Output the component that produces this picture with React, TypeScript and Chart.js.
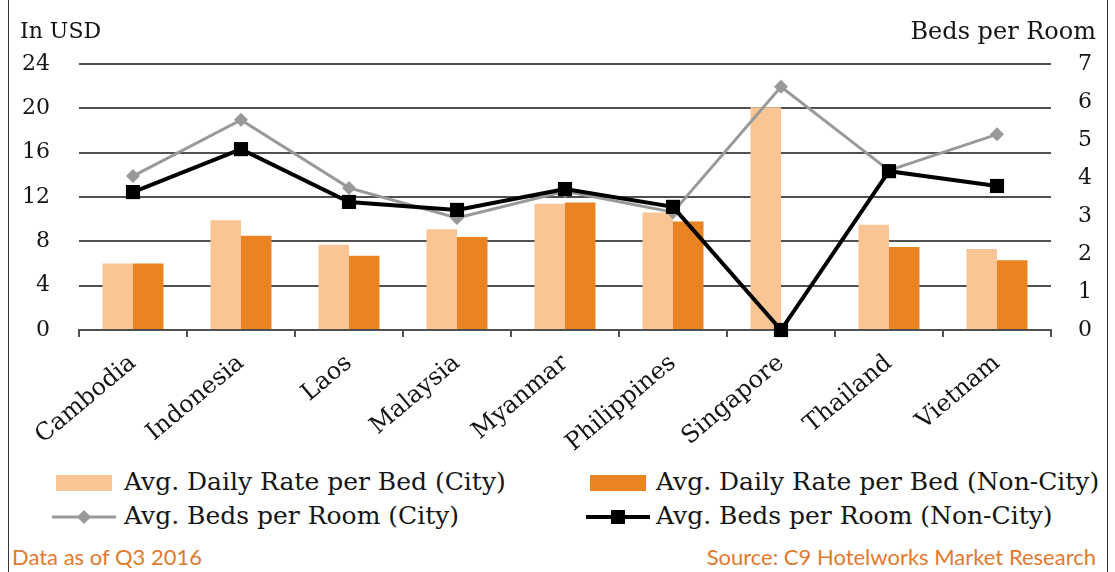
import React, { useEffect, useRef } from "react";
import { Chart, registerables } from "chart.js";

Chart.register(...registerables);

const categories = ["Cambodia", "Indonesia", "Laos", "Malaysia", "Myanmar", "Philippines", "Singapore", "Thailand", "Vietnam"];
const rateCity = [6.0, 9.9, 7.7, 9.1, 11.4, 10.6, 20.1, 9.5, 7.3];
const rateNonCity = [6.0, 8.5, 6.7, 8.4, 11.5, 9.8, 0, 7.5, 6.3];
const bedsCity = [4.05, 5.53, 3.74, 2.95, 3.65, 3.1, 6.4, 4.2, 5.15];
const bedsNonCity = [3.63, 4.76, 3.37, 3.16, 3.71, 3.24, 0, 4.18, 3.79];

const leftAxis = { min: 0, max: 24, step: 4, title: "In USD" };
const rightAxis = { min: 0, max: 7, step: 1, title: "Beds per Room" };

const seriesNames = [
  "Avg. Daily Rate per Bed (City)",
  "Avg. Daily Rate per Bed (Non-City)",
  "Avg. Beds per Room (City)",
  "Avg. Beds per Room (Non-City)",
];
const footLeft = "Data as of Q3 2016";
const footRight = "Source: C9 Hotelworks Market Research";

const COL_CITY = "#F9C594";
const COL_NONCITY = "#EA8322";
const COL_GRAY = "#999999";
const COL_BLACK = "#000000";
const COL_GRID = "#505050";
const COL_TEXT = "#151515";
const COL_FOOT = "#E07A2E";
const FONT = '"DejaVu Serif", serif';

const W = 1115;
const CH = 460;
const PLOT_LEFT = 79;
const PLOT_RIGHT = 1051;
const PLOT_TOP = 64;
const PLOT_BOTTOM = 330;

function ChartCanvas() {
  const ref = useRef<HTMLCanvasElement | null>(null);
  useEffect(() => {
    if (!ref.current) return;
    const chart = new Chart(ref.current, {
      type: "bar",
      data: {
        labels: categories,
        datasets: [
          {
            type: "line",
            label: seriesNames[3],
            data: bedsNonCity,
            yAxisID: "y1",
            borderColor: COL_BLACK,
            backgroundColor: COL_BLACK,
            borderWidth: 4,
            pointStyle: "rect",
            pointRadius: 10,
            pointBorderWidth: 0,
            tension: 0,
            clip: false as any,
            order: 0,
          },
          {
            type: "line",
            label: seriesNames[2],
            data: bedsCity,
            yAxisID: "y1",
            borderColor: COL_GRAY,
            backgroundColor: COL_GRAY,
            borderWidth: 3,
            pointStyle: "rectRot",
            pointRadius: 7,
            pointBorderWidth: 0,
            tension: 0,
            clip: false as any,
            order: 1,
          },
          {
            type: "bar",
            label: seriesNames[0],
            data: rateCity,
            yAxisID: "y",
            backgroundColor: COL_CITY,
            borderWidth: 0,
            categoryPercentage: 0.565,
            barPercentage: 1,
            order: 2,
          },
          {
            type: "bar",
            label: seriesNames[1],
            data: rateNonCity,
            yAxisID: "y",
            backgroundColor: COL_NONCITY,
            borderWidth: 0,
            categoryPercentage: 0.565,
            barPercentage: 1,
            order: 3,
          },
        ] as any,
      },
      options: {
        responsive: false,
        animation: false,
        events: [],
        layout: { padding: { top: PLOT_TOP, left: 0, right: 0, bottom: 0 } },
        plugins: { legend: { display: false }, tooltip: { enabled: false }, title: { display: false } },
        scales: {
          x: {
            offset: true,
            grid: {
              offset: true,
              drawOnChartArea: false,
              drawTicks: true,
              tickLength: 7,
              color: COL_GRID,
              lineWidth: 2,
            },
            border: { display: true, color: COL_GRID, width: 2 },
            ticks: {
              minRotation: 40,
              maxRotation: 40,
              autoSkip: false,
              padding: 12,
              color: COL_TEXT,
              font: { family: FONT, size: 24 },
            },
            afterFit: (s: any) => {
              s.height = CH - PLOT_BOTTOM;
            },
          },
          y: {
            position: "left",
            min: leftAxis.min,
            max: leftAxis.max,
            grid: { color: COL_GRID, lineWidth: 2, drawTicks: false },
            border: { display: false },
            ticks: {
              stepSize: leftAxis.step,
              padding: PLOT_LEFT - 50,
              color: COL_TEXT,
              font: { family: FONT, size: 22 },
            },
            afterFit: (s: any) => {
              s.width = PLOT_LEFT;
            },
          },
          y1: {
            position: "right",
            min: rightAxis.min,
            max: rightAxis.max,
            grid: { display: false, drawOnChartArea: false, drawTicks: false },
            border: { display: false },
            ticks: {
              stepSize: rightAxis.step,
              padding: 27,
              color: COL_TEXT,
              font: { family: FONT, size: 22 },
            },
            afterFit: (s: any) => {
              s.width = W - PLOT_RIGHT;
            },
          },
        },
      } as any,
    });
    return () => chart.destroy();
  }, []);
  return <canvas ref={ref} width={W} height={CH} style={{ display: "block", width: W, height: CH }} />;
}

function Swatch({ color }: { color: string }) {
  return (
    <svg width={60} height={20} style={{ display: "block" }}>
      <rect x={2} y={2} width={56} height={16} fill={color} />
    </svg>
  );
}

function LineMark({ color, kind }: { color: string; kind: "diamond" | "square" }) {
  return (
    <svg width={66} height={22} style={{ display: "block" }}>
      <line x1={0} y1={11} x2={64} y2={11} stroke={color} strokeWidth={kind === "square" ? 4 : 3} />
      {kind === "diamond" ? (
        <polygon points="32,4 39,11 32,18 25,11" fill={color} />
      ) : (
        <rect x={25} y={4} width={14} height={14} fill={color} />
      )}
    </svg>
  );
}

const legendText: React.CSSProperties = {
  fontFamily: FONT,
  fontSize: 25,
  color: COL_TEXT,
  whiteSpace: "nowrap",
  lineHeight: "28px",
};

const footText: React.CSSProperties = {
  position: "absolute",
  top: 543,
  fontFamily: "Lato, sans-serif",
  fontSize: 22,
  color: COL_FOOT,
  whiteSpace: "nowrap",
};

export default function App() {
  return (
    <div
      style={{
        position: "absolute",
        left: 0,
        top: 0,
        width: W,
        height: 572,
        background: "#fff",
        overflow: "hidden",
        fontFamily: FONT,
      }}
    >
      <div style={{ position: "absolute", left: 0, top: 0, width: W, height: CH }}>
        <ChartCanvas />
      </div>
      <div style={{ position: "absolute", left: 8, top: 0, width: 1, height: 572, background: "#333" }} />
      <div style={{ position: "absolute", left: 1107, top: 0, width: 1, height: 572, background: "#333" }} />
      <div style={{ position: "absolute", left: 20, top: 18, fontSize: 22, color: COL_TEXT, whiteSpace: "nowrap" }}>
        {leftAxis.title}
      </div>
      <div style={{ position: "absolute", right: W - 1096, top: 17, fontSize: 24, color: COL_TEXT, whiteSpace: "nowrap" }}>
        {rightAxis.title}
      </div>

      <div style={{ position: "absolute", left: 54, top: 473 }}>
        <Swatch color={COL_CITY} />
      </div>
      <div style={{ position: "absolute", left: 124, top: 468, ...legendText }}>{seriesNames[0]}</div>
      <div style={{ position: "absolute", left: 588, top: 473 }}>
        <Swatch color={COL_NONCITY} />
      </div>
      <div style={{ position: "absolute", left: 656, top: 468, ...legendText }}>{seriesNames[1]}</div>

      <div style={{ position: "absolute", left: 52, top: 506 }}>
        <LineMark color={COL_GRAY} kind="diamond" />
      </div>
      <div style={{ position: "absolute", left: 124, top: 502, ...legendText }}>{seriesNames[2]}</div>
      <div style={{ position: "absolute", left: 586, top: 506 }}>
        <LineMark color={COL_BLACK} kind="square" />
      </div>
      <div style={{ position: "absolute", left: 656, top: 502, ...legendText }}>{seriesNames[3]}</div>

      <div style={{ ...footText, left: 12 }}>{footLeft}</div>
      <div style={{ ...footText, right: W - 1096 }}>{footRight}</div>
    </div>
  );
}
